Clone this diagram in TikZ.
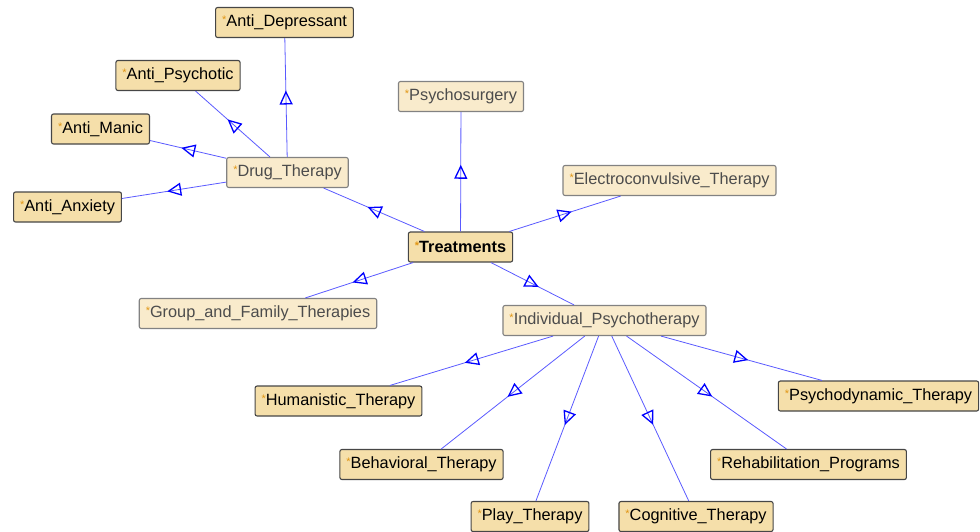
\documentclass[tikz,border=0pt]{standalone}
\usepackage{fontspec}
\setmainfont{Liberation Sans}
\usepackage{tikz}
\usetikzlibrary{arrows.meta,decorations.markings,shapes}

\definecolor{fillA}{RGB}{245,223,170}
\definecolor{fillB}{RGB}{249,235,204}
\definecolor{edgeA}{RGB}{70,70,70}
\definecolor{edgeB}{RGB}{130,130,130}
\definecolor{star}{RGB}{225,150,20}
\definecolor{isaline}{RGB}{90,90,255}

\newcommand{\cl}[1]{{\color{star}\raisebox{.35ex}{\fontsize{11}{11}\selectfont*}}#1}

\tikzset{
  cls/.style={draw=edgeA, fill=fillA, rounded corners=2pt, line width=1.1pt,
              minimum height=30pt, inner xsep=6.5pt, font=\fontsize{16.3}{18}\selectfont},
  lcls/.style={cls, draw=edgeB, fill=fillB, text=black!70},
  isa/.style={draw=isaline, line width=.8pt, postaction={decorate},
              decoration={markings, mark=at position 0.5 with
                {\arrow[xshift=7pt, blue, line width=1.3pt]{Triangle[open,length=14pt,width=13pt]}}}}
}

\begin{document}
\begin{tikzpicture}[x=1pt, y=-1pt]
      \useasboundingbox (0, 0) rectangle (980, 531);
      % root
      \node (treat) [cls, font=\fontsize{16.3}{18}\selectfont\bfseries] at (460.5, 247) {\cl{Treatments}};
      % first level
      \node (drug)  [lcls] at (287.5, 172.5) {\cl{Drug\_Therapy}};
      \node (surg)  [lcls] at (461, 96.5)    {\cl{Psychosurgery}};
      \node (ect)   [lcls] at (669.5, 180.5) {\cl{Electroconvulsive\_Therapy}};
      \node (group) [lcls] at (258, 313.5)   {\cl{Group\_and\_Family\_Therapies}};
      \node (indiv) [lcls] at (604.5, 320.5) {\cl{Individual\_Psychotherapy}};
      % drugs
      \node (dep)   [cls] at (284.5, 22.5) {\cl{Anti\_Depressant}};
      \node (psy)   [cls] at (178, 75.5)   {\cl{Anti\_Psychotic}};
      \node (man)   [cls] at (100.5, 129)  {\cl{Anti\_Manic}};
      \node (anx)   [cls] at (67.5, 207)   {\cl{Anti\_Anxiety}};
      % psychotherapies
      \node (human) [cls] at (338.5, 401)  {\cl{Humanistic\_Therapy}};
      \node (behav) [cls] at (421.5, 464.5) {\cl{Behavioral\_Therapy}};
      \node (play)  [cls] at (530, 516.5)  {\cl{Play\_Therapy}};
      \node (cogn)  [cls] at (696, 516.5)  {\cl{Cognitive\_Therapy}};
      \node (rehab) [cls] at (808.5, 464.5) {\cl{Rehabilitation\_Programs}};
      \node (dyn)   [cls] at (878.5, 396)  {\cl{Psychodynamic\_Therapy}};

      \path (treat) edge [isa] (drug)
            (treat) edge [isa] (surg)
            (treat) edge [isa] (ect)
            (treat) edge [isa] (group)
            (treat) edge [isa] (indiv)
            (drug) edge [isa] (dep)
            (drug) edge [isa] (psy)
            (drug) edge [isa] (man)
            (drug) edge [isa] (anx)
            (indiv) edge [isa] (human)
            (indiv) edge [isa] (behav)
            (indiv) edge [isa] (play)
            (indiv) edge [isa] (cogn)
            (indiv) edge [isa] (rehab)
            (indiv) edge [isa] (dyn);
\end{tikzpicture}
\end{document}
